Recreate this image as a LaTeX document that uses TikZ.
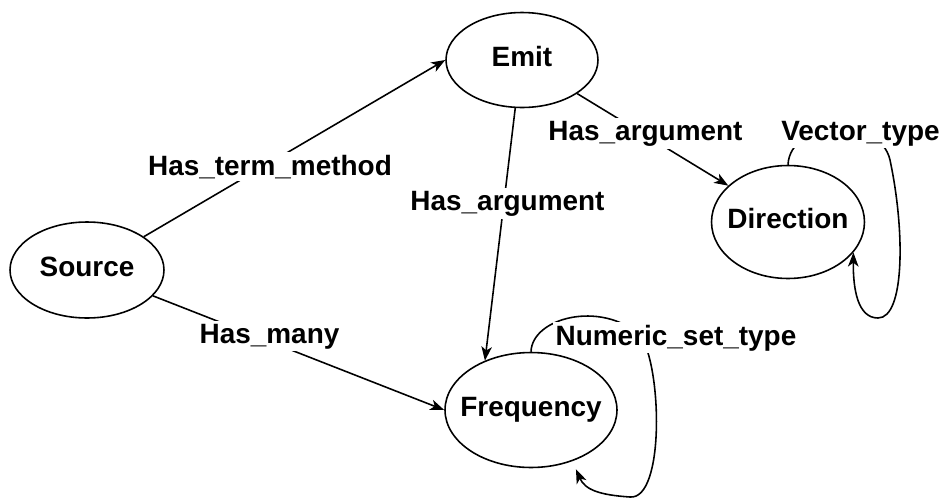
\documentclass[tikz,border=0pt]{standalone}
\usepackage{fontspec}
\setmainfont{Liberation Sans}
\usetikzlibrary{shapes.geometric,arrows.meta}

\begin{document}
\begin{tikzpicture}[x=0.02cm, y=-0.02cm, line width=0.9pt,
  font=\fontsize{15.9}{19}\selectfont\bfseries,
  concept/.style={draw, ellipse, inner xsep=-0.25cm, inner ysep=0pt, text height=0.72em, text depth=0pt},
  rel/.style={fill=white, inner sep=1.5pt, anchor=base},
  >={Stealth[length=8pt, width=6pt, inset=2.2pt]}]
  \useasboundingbox (0,0) rectangle (944,501);

  \node[concept, minimum width=3.08cm, minimum height=1.92cm] (src) at (87,270) {Source};
  \node[concept, minimum width=3.04cm, minimum height=1.9cm] (emit) at (522,60) {Emit};
  \node[concept, minimum width=3.06cm, minimum height=2.26cm] (dir) at (788,222) {Direction};
  \node[concept, minimum width=3.44cm, minimum height=2.3cm] (freq) at (531,410) {Frequency};

  \draw[->] (src) -- (emit.west);
  \draw[->] (src) -- (freq.west);
  \draw[->] (emit.262) -- (freq.133);
  \draw[->] (emit) -- (dir);

  % self loops
  \draw[->] (dir.north) .. controls (790,120) and (880,115) .. (890,160)
    .. controls (905,230) and (905,318) .. (878,318)
    .. controls (858,318) and (853,290) .. (dir.-25);
  \draw[->, shorten >=5pt] (freq.north) .. controls (532,318) and (600,300) .. (640,335)
    .. controls (662,365) and (665,500) .. (630,497)
    .. controls (600,495) and (585,490) .. (freq.-51);

  \node[rel] (termlbl) at (270,175) {Has\_term\_method};
  \node[rel] (manylbl) at (269.5,343) {Has\_many};
  \node[rel] (arglbl) at (507.5,210) {Has\_argument};
  \node[rel] (dirarglbl) at (645.5,140) {Has\_argument};
  \node[rel] (veclbl) at (860.5,140) {Vector\_type};
  \node[rel] (numlbl) at (676,345) {Numeric\_set\_type};
\end{tikzpicture}
\end{document}
